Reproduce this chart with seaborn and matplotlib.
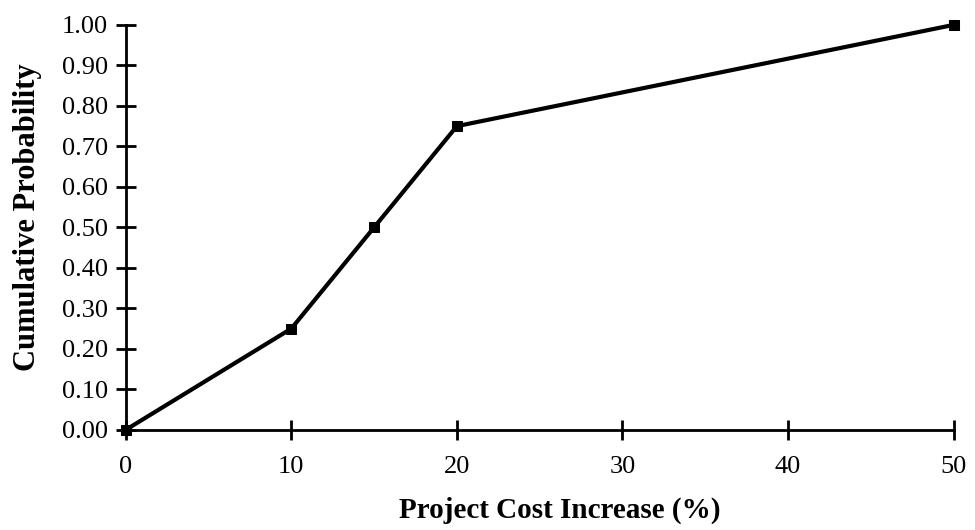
import matplotlib
matplotlib.use("Agg")
import matplotlib.pyplot as plt
import seaborn as sns
import pandas as pd

cost_increase = [0, 10, 15, 20, 50]
cum_prob = [0.0, 0.25, 0.50, 0.75, 1.00]
x_ticks = [0, 10, 20, 30, 40, 50]
y_ticks = [0.0, 0.1, 0.2, 0.3, 0.4, 0.5, 0.6, 0.7, 0.8, 0.9, 1.0]
x_label = "Project Cost Increase (%)"
y_label = "Cumulative Probability"

sns.set_theme(style="ticks")
plt.rcParams["font.family"] = ["Liberation Serif", "DejaVu Serif"]
plt.rcParams["text.color"] = "black"
plt.rcParams["axes.labelcolor"] = "black"

df = pd.DataFrame({"x": cost_increase, "y": cum_prob})

fig = plt.figure(figsize=(9.75, 5.3), dpi=100)
ax = fig.add_axes([0.129, 0.189, 0.849, 0.764])

sns.lineplot(data=df, x="x", y="y", ax=ax, color="black", linewidth=3,
             marker="s", markersize=7, markeredgecolor="black", clip_on=False)

ax.set_xlim(0, 50)
ax.set_ylim(0, 1.0)
ax.set_xticks(x_ticks)
ax.set_xticklabels([str(t) for t in x_ticks])
ax.set_yticks(y_ticks)
ax.set_yticklabels([f"{t:.2f}" for t in y_ticks])

for s in ["top", "right"]:
    ax.spines[s].set_visible(False)
for s in ["left", "bottom"]:
    ax.spines[s].set_linewidth(2)
    ax.spines[s].set_color("black")

ax.tick_params(axis="both", direction="inout", length=14, width=2,
               colors="black", labelcolor="black", labelsize=19)
ax.tick_params(axis="x", pad=12)
ax.tick_params(axis="y", pad=6)

ax.set_xlabel(x_label, fontsize=21, fontweight="bold", labelpad=13, color="black")
ax.set_ylabel(y_label, fontsize=22, fontweight="bold", labelpad=14, color="black")
ax.xaxis.label.set_x(0.524)
ax.yaxis.label.set_y(0.526)

fig.savefig("out.png", dpi=100, facecolor="white")
